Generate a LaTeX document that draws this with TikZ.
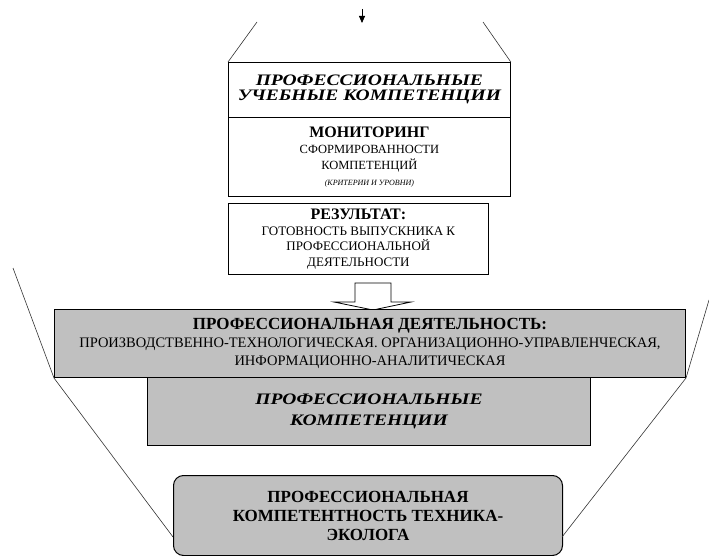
\documentclass[tikz,border=0pt]{standalone}
\usepackage{fontspec}
\setmainfont{Liberation Serif}
\newfontfamily\wideserif{Liberation Serif}[FakeStretch=1.22]
\usepackage{xcolor}
\usepackage{tikz}
\usetikzlibrary{arrows.meta}
\definecolor{boxgrey}{HTML}{C0C0C0}
\tikzset{%
    every box/.style={
            draw,
            line width=0.8pt,
            inner sep=0pt,
            align=center,
            anchor=north west
        },
    box grey/.style={
            fill=boxgrey,
            line width=1pt
        },
    funnel/.style={
            draw=black!80,
            line width=0.6pt
        },
}

\begin{document}
\begin{tikzpicture}[x=1pt, y=-1pt, >={Triangle[length=7pt,width=6pt]}]

        \useasboundingbox (0,0) rectangle (709,556);

        % upper part of the funnel
        \node [every box, minimum width=282pt, minimum height=55pt,
               font=\wideserif\bfseries\itshape\fontsize{16}{15}\selectfont] (uchebn) at (228,62)
        {ПРОФЕССИОНАЛЬНЫЕ\\УЧЕБНЫЕ КОМПЕТЕНЦИИ};

        \node [every box, minimum width=282pt, minimum height=79pt,
               font=\fontsize{12.5}{16}\selectfont] (monit) at (228,117)
        {{\bfseries\fontsize{16}{18}\selectfont МОНИТОРИНГ}\\
         СФОРМИРОВАННОСТИ\\
         КОМПЕТЕНЦИЙ\\
         {\itshape\fontsize{8}{10}\selectfont (КРИТЕРИИ И УРОВНИ)}};

        \node [every box, minimum width=260pt, minimum height=71pt,
               font=\fontsize{13}{15.5}\selectfont] (result) at (228,203)
        {{\bfseries\fontsize{16}{18}\selectfont РЕЗУЛЬТАТ:}\\
         ГОТОВНОСТЬ ВЫПУСКНИКА К\\
         ПРОФЕССИОНАЛЬНОЙ\\
         ДЕЯТЕЛЬНОСТИ};

        \coordinate (topin) at (362,9);
        \coordinate (topout) at (362,23);
        \draw [->, line width=0.8pt] (topin) -- (topout);

        \coordinate (ul) at (257,22);
        \coordinate (ur) at (483,22);
        \draw [funnel] (ul) -- (uchebn.north west);
        \draw [funnel] (ur) -- (uchebn.north east);

        % hollow arrow
        \coordinate (blk) at (373,283);
        \draw [fill=white, line width=0.8pt] (blk) ++(-18,0) -- ++(36,0) -- ++(0,19)
        -- ++(20,0) -- (373,310) -- (334,302) -- ++(21,0) -- cycle;

        % lower part of the funnel
        \node [every box, box grey, minimum width=443pt, minimum height=68pt,
               font=\wideserif\bfseries\itshape\fontsize{16}{21}\selectfont] (kompet) at (147,377)
        {ПРОФЕССИОНАЛЬНЫЕ\\КОМПЕТЕНЦИИ};

        \node [every box, box grey, minimum width=631pt, minimum height=68pt,
               font=\fontsize{14.5}{18}\selectfont] (activity) at (54,309)
        {{\bfseries\fontsize{17}{19}\selectfont ПРОФЕССИОНАЛЬНАЯ ДЕЯТЕЛЬНОСТЬ:}\\
         ПРОИЗВОДСТВЕННО-ТЕХНОЛОГИЧЕСКАЯ. ОРГАНИЗАЦИОННО-УПРАВЛЕНЧЕСКАЯ,\\
         ИНФОРМАЦИОННО-АНАЛИТИЧЕСКАЯ};

        \node [every box, box grey, rounded corners=10pt, minimum width=389pt, minimum height=80pt,
               font=\bfseries\fontsize{17}{19}\selectfont] (final) at (173,475)
        {ПРОФЕССИОНАЛЬНАЯ\\КОМПЕТЕНТНОСТЬ ТЕХНИКА-\\ЭКОЛОГА};

        \coordinate (ll) at (13,268);
        \coordinate (lr) at (709,300);
        \coordinate (fl) at (173,537);
        \coordinate (fr) at (562,537);
        \draw [funnel] (ll) -- (activity.south west) -- (fl);
        \draw [funnel] (lr) -- (activity.south east) -- (fr);

    \end{tikzpicture}
\end{document}
